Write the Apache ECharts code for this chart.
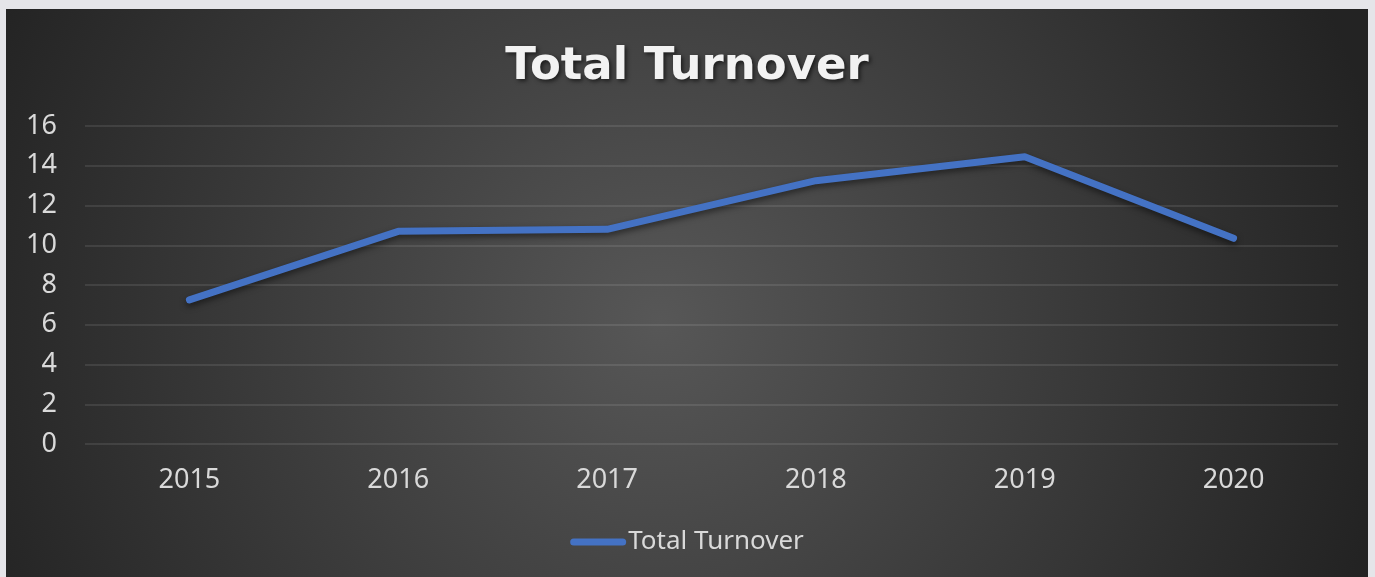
<!DOCTYPE html>
<html>
<head>
<meta charset="utf-8">
<script src="https://cdn.jsdelivr.net/npm/echarts@6/dist/echarts.min.js"></script>
<style>
  html, body { margin: 0; padding: 0; background: #e5e5e9; width: 1375px; height: 577px; overflow: hidden; }
  #chart { position: absolute; left: 6px; top: 9px; width: 1362px; height: 568px; }
</style>
</head>
<body>
<div id="chart"></div>
<script>
// data
const years = ['2015', '2016', '2017', '2018', '2019', '2020'];
const turnover = [7.25, 10.7, 10.8, 13.25, 14.45, 10.35];
const seriesName = 'Total Turnover';

const labelColor = '#d9d9d9';
const chart = echarts.init(document.getElementById('chart'));

chart.setOption({
    backgroundColor: {
        type: 'radial', x: 0.48, y: 0.55, r: 1.3,
        colorStops: [
            {offset: 0, color: '#575757'},
            {offset: 1, color: '#232323'}
        ]
    },
    title: {
        text: 'Total Turnover',
        left: 'center',
        top: 31,
        textStyle: {
            fontFamily: 'DejaVu Sans',
            fontWeight: 'bold',
            fontSize: 45,
            color: '#f2f2f2',
            textShadowColor: 'rgba(0,0,0,0.6)',
            textShadowBlur: 4,
            textShadowOffsetX: 2,
            textShadowOffsetY: 2
        }
    },
    legend: {
        bottom: 17,
        left: 'center',
        itemWidth: 56,
        itemHeight: 7,
        itemGap: 10,
        data: [{name: seriesName, icon: 'path://M3.5,0 L52.5,0 A3.5,3.5 0 0 1 52.5,7 L3.5,7 A3.5,3.5 0 0 1 3.5,0 Z'}],
        textStyle: {fontFamily: 'Noto Sans', fontSize: 26, color: labelColor, padding: [0, 0, 0, -3]}
    },
    grid: {left: 79, right: 30, top: 117, bottom: 133, containLabel: false, outerBoundsMode: 'none'},
    xAxis: {
        type: 'category',
        data: years,
        axisLine: {show: false},
        axisTick: {show: false},
        axisLabel: {fontFamily: 'Noto Sans', fontSize: 27, color: labelColor, margin: 23}
    },
    yAxis: {
        type: 'value',
        min: 0, max: 16, interval: 2,
        axisLine: {show: false},
        axisTick: {show: false},
        axisLabel: {fontFamily: 'Noto Sans', fontSize: 27, color: labelColor, margin: 28},
        splitLine: {lineStyle: {color: 'rgba(255,255,255,0.13)', width: 1.5}}
    },
    series: [{
        name: seriesName,
        type: 'line',
        data: turnover,
        symbol: 'none',
        color: '#4472c4',
        lineStyle: {
            width: 7, cap: 'round', join: 'round',
            shadowColor: 'rgba(0,0,0,0.5)', shadowBlur: 6, shadowOffsetY: 3
        }
    }],
    animation: false
});
</script>
</body>
</html>
